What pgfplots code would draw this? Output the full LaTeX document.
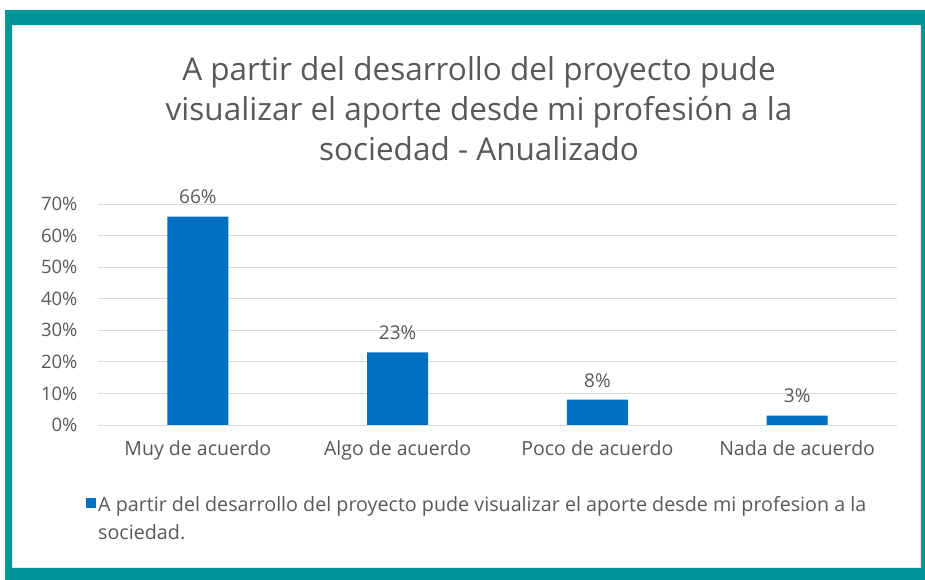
\documentclass[border=0pt]{standalone}
\usepackage{pgfplots}
\pgfplotsset{compat=1.18}
\usepackage{fontspec}
\setmainfont{Open Sans}
\definecolor{teal1}{RGB}{0,150,153}
\definecolor{barblue}{RGB}{0,112,192}
\definecolor{txtgray}{RGB}{89,89,89}
\definecolor{gridgray}{RGB}{217,217,217}
\begin{document}
\begin{tikzpicture}[x=1pt,y=1pt]
\useasboundingbox (0,0) rectangle (925,580);
\fill[white] (0,0) rectangle (925,580);
\fill[teal1] (5,0) rectangle (925,570);
\fill[white] (12,13) rectangle (920,555);
\draw[gridgray!60, line width=0.6pt] (12,13) rectangle (920,555);
\node[text=txtgray, font=\fontsize{31.5}{40}\selectfont, align=center, anchor=north, inner sep=0pt] at (479,524) {A partir del desarrollo del proyecto pude\\visualizar el aporte desde mi profesión a la\\sociedad - Anualizado};
\begin{axis}[
  at={(98pt,155pt)}, anchor=south west,
  scale only axis, width=799pt, height=221pt,
  xmin=-0.5, xmax=3.5, ymin=0, ymax=70,
  xtick={0,1,2,3},
  xticklabels={Muy de acuerdo, Algo de acuerdo, Poco de acuerdo, Nada de acuerdo},
  ytick={0,10,20,30,40,50,60,70},
  yticklabel={\pgfmathprintnumber{\tick}\%},
  /pgf/number format/assume math mode=true,
  ymajorgrids, grid style={gridgray, line width=0.8pt},
  axis line style={draw=none},
  major tick length=0pt,
  tick label style={text=txtgray},
  yticklabel style={font=\fontsize{18.5}{22}\selectfont, xshift=-17pt},
  xticklabel style={font=\fontsize{19.5}{23}\selectfont, yshift=-12pt},
  ybar, bar width=61pt,
  nodes near coords={\pgfmathprintnumber{\pgfplotspointmeta}\%},
  nodes near coords style={text=txtgray, font=\fontsize{19}{22}\selectfont, yshift=9pt},
  clip=false,
  legend style={at={(-12pt,-69pt)}, anchor=north west, draw=none, fill=none,
    font=\fontsize{19.7}{28}\selectfont, text=txtgray, inner sep=0pt},
  legend cell align=left,
  legend image code/.code={\fill[barblue] (0pt,-4pt) rectangle (10pt,6pt);},
]
\addplot[fill=barblue, draw=none] coordinates {(0,66) (1,23) (2,8) (3,3)};
\addlegendentry{\parbox[t]{785pt}{\raggedright A partir del desarrollo del proyecto pude visualizar el aporte desde mi profesion a la sociedad.}}
\end{axis}
\end{tikzpicture}
\end{document}
